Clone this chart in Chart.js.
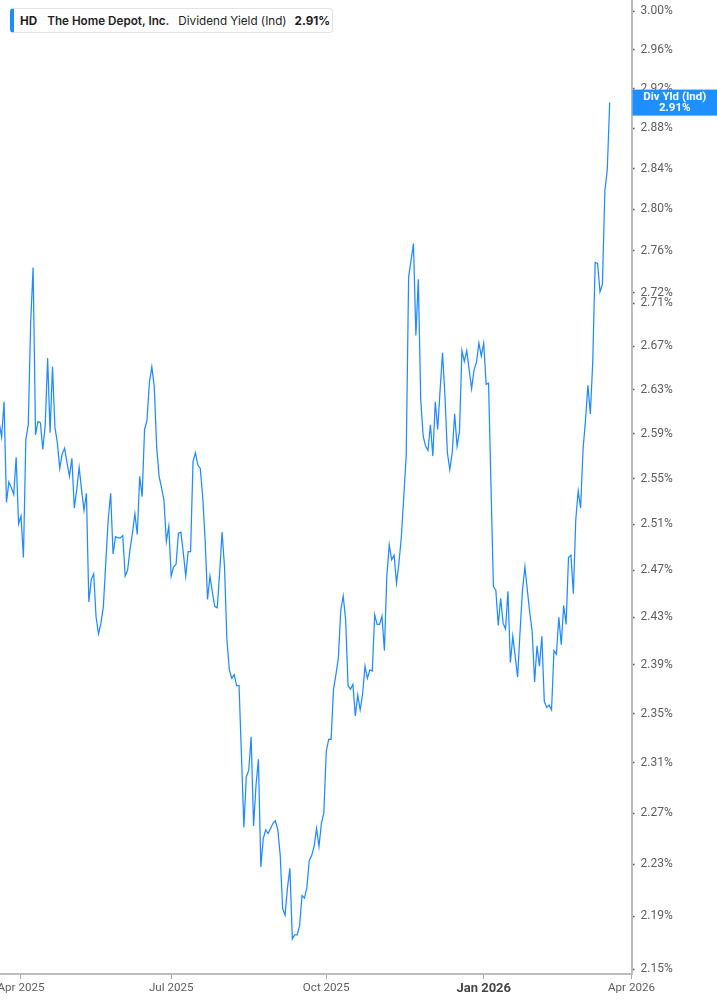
<!DOCTYPE html>
<html>
<head>
<meta charset="utf-8">
<script src="https://cdn.jsdelivr.net/npm/chart.js@4.4.1/dist/chart.umd.min.js"></script>
<style>
  html, body { margin: 0; padding: 0; background: #ffffff; }
  #wrap { position: relative; width: 717px; height: 1005px; overflow: hidden; }
  #c { position: absolute; left: 0; top: 0; }
  #legend {
    position: absolute; left: 10px; top: 8px; height: 25px; width: 323px;
    box-sizing: border-box; border: 1px solid #e4e4e4; border-left: 4px solid #1f8bff; border-radius: 4px;
    background: #fff; font-family: Inter, "Noto Sans", sans-serif; font-size: 11.7px; color: #222;
    display: flex; align-items: center; white-space: nowrap; padding-left: 6px;
  }
  #legend .sym { font-weight: 700; margin-right: 10px; }
  #legend .name { font-weight: 600; margin-right: 9px; }
  #legend .metric { font-weight: 400; margin-right: 8px; }
  #legend .val { font-weight: 700; }
</style>
</head>
<body>
<div id="wrap">
  <canvas id="c" width="717" height="1005"></canvas>
  <div id="legend"><span class="sym">HD</span><span class="name">The Home Depot, Inc.</span><span class="metric">Dividend Yield (Ind)</span><span class="val">2.91%</span></div>
</div>
<script>
// ---- DATA ----
// trading-day index of the first value (0 = 1 Apr 2025)
const firstDay = -9;
// Dividend yield (%) per trading day
const yieldValues = [
  2.600, 2.587, 2.619, 2.529, 2.547, 2.542, 2.536, 2.569, 2.510,
  2.517, 2.481, 2.585, 2.598, 2.693, 2.744, 2.589, 2.601, 2.600, 2.576,
  2.598, 2.659, 2.591, 2.651, 2.596, 2.582, 2.559, 2.572, 2.577, 2.564,
  2.552, 2.568, 2.524, 2.540, 2.560, 2.540, 2.522, 2.537, 2.443, 2.462,
  2.467, 2.430, 2.416, 2.425, 2.439, 2.477, 2.514, 2.537, 2.484, 2.499,
  2.498, 2.498, 2.500, 2.465, 2.470, 2.488, 2.502, 2.519, 2.501, 2.552,
  2.534, 2.594, 2.602, 2.637, 2.651, 2.633, 2.578, 2.552, 2.542, 2.531,
  2.495, 2.508, 2.465, 2.473, 2.475, 2.502, 2.503, 2.485, 2.465, 2.486,
  2.486, 2.565, 2.573, 2.562, 2.559, 2.534, 2.496, 2.445, 2.465, 2.451,
  2.439, 2.438, 2.468, 2.503, 2.473, 2.411, 2.386, 2.379, 2.382, 2.373,
  2.373, 2.316, 2.259, 2.299, 2.304, 2.331, 2.260, 2.292, 2.313, 2.228,
  2.250, 2.257, 2.254, 2.258, 2.262, 2.264, 2.257, 2.237, 2.196, 2.191,
  2.212, 2.227, 2.173, 2.176, 2.176, 2.183, 2.206, 2.204, 2.212, 2.233,
  2.237, 2.244, 2.258, 2.244, 2.262, 2.270, 2.319, 2.329, 2.329, 2.370,
  2.382, 2.396, 2.436, 2.448, 2.428, 2.373, 2.370, 2.374, 2.348, 2.365,
  2.353, 2.366, 2.389, 2.379, 2.386, 2.385, 2.432, 2.424, 2.424, 2.431,
  2.402, 2.465, 2.492, 2.479, 2.483, 2.459, 2.476, 2.499, 2.534, 2.570,
  2.735, 2.751, 2.767, 2.680, 2.733, 2.621, 2.588, 2.579, 2.575, 2.598,
  2.570, 2.619, 2.594, 2.630, 2.664, 2.624, 2.573, 2.558, 2.573, 2.608,
  2.579, 2.592, 2.666, 2.656, 2.666, 2.648, 2.631, 2.648, 2.655, 2.673,
  2.661, 2.673, 2.635, 2.636, 2.543, 2.456, 2.453, 2.423, 2.446, 2.425,
  2.420, 2.452, 2.392, 2.414, 2.397, 2.380, 2.418, 2.453, 2.473, 2.453,
  2.434, 2.418, 2.376, 2.406, 2.389, 2.414, 2.360, 2.355, 2.357, 2.353,
  2.402, 2.399, 2.430, 2.407, 2.440, 2.424, 2.481, 2.483, 2.450, 2.514,
  2.539, 2.524, 2.576, 2.602, 2.634, 2.608, 2.655, 2.749, 2.748, 2.721,
  2.728, 2.818, 2.839, 2.906
];
// x-axis ticks (trading-day index) and labels
const xTickDays = [0, 62, 126, 191, 252];
const xTickLabels = ['Apr 2025', 'Jul 2025', 'Oct 2025', 'Jan 2026', 'Apr 2026'];
const boldTickLabel = 'Jan 2026';
// y-axis tick values (%)
const yTickValues = [3.00, 2.96, 2.92, 2.88, 2.84, 2.80, 2.76, 2.72, 2.71, 2.67, 2.63, 2.59,
                     2.55, 2.51, 2.47, 2.43, 2.39, 2.35, 2.31, 2.27, 2.23, 2.19, 2.15];
const lastLabelTitle = 'Div Yld (Ind)';
const lastLabelValue = '2.91%';

// ---- CHART ----
const points = yieldValues.map((v, k) => ({ x: firstDay + k, y: v }));
const lineColor = '#1f8bff';

const lastValueBox = {
  id: 'lastValueBox',
  afterDraw(chart) {
    const meta = chart.getDatasetMeta(0);
    const pt = meta.data[meta.data.length - 1];
    const ctx = chart.ctx;
    const left = chart.chartArea.right + 1;
    const right = chart.width;
    const h = 26;
    const top = pt.y - h / 2;
    ctx.save();
    ctx.fillStyle = '#1e8fff';
    ctx.fillRect(left, top, right - left, h);
    ctx.fillStyle = '#ffffff';
    ctx.textAlign = 'center';
    ctx.textBaseline = 'middle';
    ctx.font = 'bold 11.5px Roboto, "DejaVu Sans", sans-serif';
    const cx = (left + right) / 2;
    ctx.fillText(lastLabelTitle, cx, top + 7.5);
    ctx.fillText(lastLabelValue, cx, top + 19);
    ctx.restore();
  }
};

new Chart(document.getElementById('c'), {
  type: 'line',
  data: {
    datasets: [{
      data: points,
      borderColor: lineColor,
      borderWidth: 1.25,
      pointRadius: 0,
      tension: 0,
      fill: false
    }]
  },
  options: {
    responsive: false,
    animation: false,
    layout: { padding: 0, autoPadding: false },
    plugins: { legend: { display: false }, tooltip: { enabled: false } },
    scales: {
      x: {
        type: 'linear',
        min: -8.668,
        max: 252,
        afterBuildTicks(scale) { scale.ticks = xTickDays.map(v => ({ value: v })); },
        afterFit(scale) { scale.height = 31; scale.paddingLeft = 0; scale.paddingRight = 0; },
        grid: { display: true, drawOnChartArea: false, drawTicks: true, tickLength: 5, tickColor: '#a8a8a8', tickWidth: 1 },
        border: { display: true, color: '#bcbcbc', width: 2 },
        ticks: {
          autoSkip: false,
          maxRotation: 0,
          padding: 2,
          callback(value) {
            const k = xTickDays.indexOf(value);
            return k >= 0 ? xTickLabels[k] : '';
          },
          font(ctx) {
            const lbl = ctx.tick ? xTickLabels[xTickDays.indexOf(ctx.tick.value)] : '';
            return lbl === boldTickLabel
              ? { family: 'Roboto', size: 13, weight: 'bold' }
              : { family: 'Roboto', size: 11.6, weight: 'normal' };
          },
          color(ctx) {
            const lbl = ctx.tick ? xTickLabels[xTickDays.indexOf(ctx.tick.value)] : '';
            return lbl === boldTickLabel ? '#454545' : '#5e5e5e';
          }
        }
      },
      y: {
        type: 'logarithmic',
        position: 'right',
        min: 2.1466,
        max: 3.0115,
        afterBuildTicks(scale) { scale.ticks = yTickValues.map(v => ({ value: v })); },
        afterFit(scale) { scale.width = 85.5; scale.paddingTop = 0; scale.paddingBottom = 0; },
        grid: { display: true, drawOnChartArea: false, drawTicks: true, tickLength: 3, tickColor: '#555555', tickWidth: 1.5 },
        border: { display: true, color: '#bcbcbc', width: 2 },
        ticks: {
          autoSkip: false,
          padding: 6,
          color: '#5e5e5e',
          font: { family: 'Roboto', size: 12 },
          callback(value) { return Number(value).toFixed(2) + '%'; }
        }
      }
    }
  },
  plugins: [lastValueBox]
});
</script>
</body>
</html>
